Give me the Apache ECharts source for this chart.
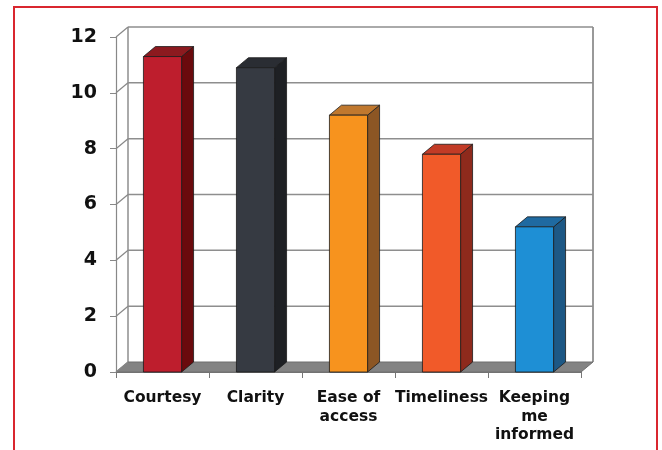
<!DOCTYPE html>
<html>
<head>
<meta charset="utf-8">
<script src="https://cdn.jsdelivr.net/npm/echarts@6/dist/echarts.min.js"></script>
<style>html,body{margin:0;padding:0;background:#fff}#c{width:662px;height:450px}</style>
</head>
<body>
<div id="c"></div>
<script>
const categories = ['Courtesy', 'Clarity', 'Ease of\naccess', 'Timeliness', 'Keeping\nme\ninformed'];
const values = [11.3, 10.9, 9.2, 7.8, 5.2];
const yTicks = [0, 2, 4, 6, 8, 10, 12];
const frontColors = ['#be1e2d', '#363a42', '#f7931e', '#f15a29', '#1e8fd5'];
const topColors = ['#8c1a1f', '#2a2d33', '#c0782e', '#c23b26', '#1f6aa1'];
const sideColors = ['#6a0a0d', '#1e2024', '#8c5624', '#8e2a1c', '#1d5885'];

const DX = 12, DY = 10;
const GRID_LINE = '#8e8e8e';

const chart = echarts.init(document.getElementById('c'));

function frameItem(params, api) {
  const cs = params.coordSys;
  const t = api.value(1);
  const y = api.coord([0, t])[1];
  const xl = cs.x, xr = cs.x + cs.width;
  const children = [];
  if (t === yTicks[0]) {
    children.push({
      type: 'polygon',
      shape: { points: [[xl, y], [xr, y], [xr + DX, y - DY], [xl + DX, y - DY]] },
      style: { fill: '#838383', stroke: '#6e6e6e', lineWidth: 1 },
      z2: 1
    });
    const yTop = api.coord([0, yTicks[yTicks.length - 1]])[1];
    children.push({
      type: 'line',
      shape: { x1: xl + DX, y1: y - DY, x2: xl + DX, y2: yTop - DY },
      style: { stroke: GRID_LINE, lineWidth: 1.5 }, z2: 0
    });
    children.push({
      type: 'line',
      shape: { x1: xr + DX, y1: y - DY, x2: xr + DX, y2: yTop - DY },
      style: { stroke: '#777', lineWidth: 1.5 }, z2: 0
    });
  } else {
    children.push({
      type: 'line',
      shape: { x1: xl + DX, y1: y - DY, x2: xr + DX, y2: y - DY },
      style: { stroke: GRID_LINE, lineWidth: 1.5 }, z2: 0
    });
  }
  children.push({
    type: 'line',
    shape: { x1: xl, y1: y, x2: xl + DX, y2: y - DY },
    style: { stroke: '#888', lineWidth: 1.2 }, z2: 2
  });
  return { type: 'group', children: children };
}

function barItem(params, api) {
  const i = api.value(0);
  const base = api.coord([i, 0]);
  const top = api.coord([i, api.value(1)]);
  const bw = api.size([1, 0])[0] * 0.41;
  const x0 = base[0] - bw / 2, x1 = base[0] + bw / 2;
  const y0 = top[1], y1 = base[1];
  const edge = { stroke: '#1a1a1a', lineWidth: 0.8 };
  return {
    type: 'group',
    children: [
      {
        type: 'polygon',
        shape: { points: [[x1, y0], [x1 + DX, y0 - DY], [x1 + DX, y1 - DY], [x1, y1]] },
        style: Object.assign({ fill: sideColors[i] }, edge)
      },
      {
        type: 'polygon',
        shape: { points: [[x0, y0], [x1, y0], [x1 + DX, y0 - DY], [x0 + DX, y0 - DY]] },
        style: Object.assign({ fill: topColors[i] }, edge)
      },
      {
        type: 'rect',
        shape: { x: x0, y: y0, width: x1 - x0, height: y1 - y0 },
        style: Object.assign({ fill: frontColors[i] }, edge)
      }
    ]
  };
}

chart.setOption({
  animation: false,
  backgroundColor: '#fff',
  graphic: [{
    type: 'rect',
    shape: { x: 14, y: 7, width: 643, height: 470 },
    style: { fill: 'none', stroke: '#d9262f', lineWidth: 2 },
    z: 100
  }],
  grid: { left: 116, top: 37, right: 81, bottom: 78 },
  xAxis: {
    type: 'category',
    data: categories,
    axisLine: { show: true, lineStyle: { color: '#777', width: 1.2 } },
    axisTick: { show: true, length: 6, lineStyle: { color: '#777' } },
    axisLabel: {
      interval: 0, margin: 17, color: '#111',
      fontFamily: 'DejaVu Sans', fontWeight: 'bold', fontSize: 15.5, lineHeight: 18.5
    },
    splitLine: { show: false }
  },
  yAxis: {
    type: 'value', min: 0, max: 12, interval: 2,
    axisLine: { show: true, lineStyle: { color: '#888', width: 1.2 } },
    axisTick: { show: true, length: 6, lineStyle: { color: '#888' } },
    axisLabel: {
      margin: 19, color: '#111',
      fontFamily: 'DejaVu Sans', fontWeight: 'bold', fontSize: 19
    },
    splitLine: { show: false }
  },
  series: [
    {
      type: 'custom',
      renderItem: frameItem,
      data: yTicks.map(t => [0, t]),
      z: 1,
      silent: true
    },
    {
      type: 'custom',
      renderItem: barItem,
      data: values.map((v, i) => [i, v]),
      z: 3
    }
  ]
});
</script>
</body>
</html>
